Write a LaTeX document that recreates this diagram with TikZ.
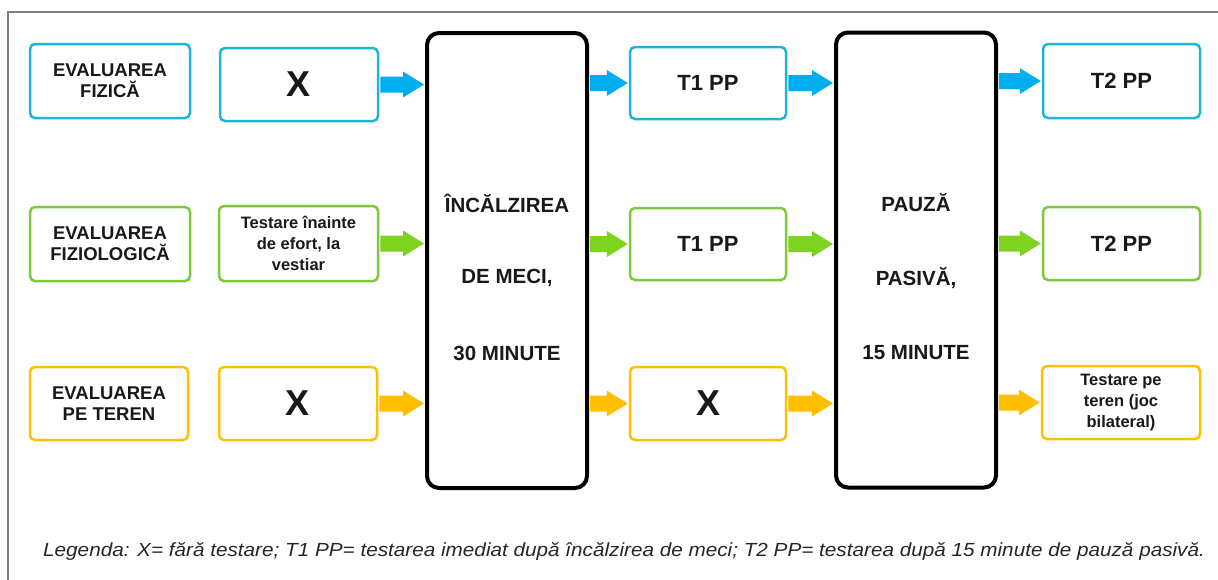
\documentclass[tikz,border=0pt]{standalone}
\usepackage{fontspec}
\setmainfont{Liberation Sans}
\usetikzlibrary{calc}
\definecolor{cyb}{HTML}{1EB4D8}
\definecolor{cya}{HTML}{00AEEF}
\definecolor{grb}{HTML}{7DC93B}
\definecolor{gra}{HTML}{7ED321}
\definecolor{yeb}{HTML}{FFC000}
\definecolor{yea}{HTML}{FFBF00}
\definecolor{frm}{HTML}{808080}
\newcommand{\blockarr}[4]{%
  \fill[#4] let \p1=(#1.east), \p2=(#2.west), \p3=(#3.center) in
    (\x1+1pt,\y3+8pt) -- (\x2-22pt,\y3+8pt) -- (\x2-22pt,\y3+13pt) --
    (\x2-1pt,\y3) -- (\x2-22pt,\y3-13pt) -- (\x2-22pt,\y3-8pt) --
    (\x1+1pt,\y3-8pt) -- cycle;}
\tikzset{
  sbox/.style={draw=#1, line width=2.5pt, rounded corners=5pt, fill=white,
    align=center, inner sep=0pt, text=black!90},
  bigbox/.style={draw=black, line width=4pt, rounded corners=12pt, fill=white,
    minimum width=160, minimum height=455, inner sep=0pt},
  lab/.style={font=\bfseries\fontsize{18.5}{21}\selectfont},
  small/.style={font=\bfseries\fontsize{16.5}{21}\selectfont},
  tpp/.style={font=\bfseries\fontsize{22}{26}\selectfont},
  bigx/.style={font=\bfseries\fontsize{36}{40}\selectfont},
  bigtxt/.style={font=\bfseries\fontsize{20.5}{24}\selectfont, text=black!90},
}
\begin{document}
\begin{tikzpicture}[x=1pt,y=-1pt]
\useasboundingbox (0,0) rectangle (1218,579);
\draw[frm, line width=1.5pt] (8,12) rectangle (1260,620);

% big boxes
\node[bigbox] (B1) at (507,260.5) {};
\node[bigbox] (B2) at (916,260) {};
\node[bigtxt] (b1a) at (507,203) {ÎNCĂLZIREA};
\node[bigtxt] (b1b) at (507,278) {DE MECI,};
\node[bigtxt] (b1c) at (507,353) {30 MINUTE};
\node[bigtxt] (b2a) at (916,203) {PAUZĂ};
\node[bigtxt] (b2b) at (916,278) {PASIVĂ,};
\node[bigtxt] (b2c) at (916,353) {15 MINUTE};

% row 1
\node[sbox=cyb, lab, minimum width=160, minimum height=74] (L1) at (110,81) {EVALUAREA\\FIZICĂ};
\node[sbox=cyb, bigx, minimum width=158, minimum height=73] (X1) at (299,84.5) {X};
\node[sbox=cyb, tpp, minimum width=156, minimum height=72] (T1a) at (708,83) {T1 PP};
\node[sbox=cyb, tpp, minimum width=157, minimum height=74] (T2a) at (1121.5,81) {T2 PP};

% row 2
\node[sbox=grb, lab, minimum width=160, minimum height=74] (L2) at (110,244) {EVALUAREA\\FIZIOLOGICĂ};
\node[sbox=grb, small, minimum width=159, minimum height=75] (V2) at (298.5,243.5) {Testare înainte\\de efort, la\\vestiar};
\node[sbox=grb, tpp, minimum width=156, minimum height=72] (T1b) at (708,244) {T1 PP};
\node[sbox=grb, tpp, minimum width=157, minimum height=73] (T2b) at (1121.5,243.5) {T2 PP};

% row 3
\node[sbox=yeb, lab, minimum width=158, minimum height=73] (L3) at (109,403.5) {EVALUAREA\\PE TEREN};
\node[sbox=yeb, bigx, minimum width=158, minimum height=73] (X3) at (298,403.5) {X};
\node[sbox=yeb, bigx, minimum width=156, minimum height=73] (X3b) at (708,403.5) {X};
\node[sbox=yeb, small, minimum width=158, minimum height=73] (T2c) at (1121,402.5) {Testare pe\\teren (joc\\bilateral)};

% arrows
\blockarr{X1}{B1}{X1}{cya}
\blockarr{B1}{T1a}{T1a}{cya}
\blockarr{T1a}{B2}{T1a}{cya}
\blockarr{B2}{T2a}{T2a}{cya}
\blockarr{V2}{B1}{V2}{gra}
\blockarr{B1}{T1b}{T1b}{gra}
\blockarr{T1b}{B2}{T1b}{gra}
\blockarr{B2}{T2b}{T2b}{gra}
\blockarr{X3}{B1}{X3}{yea}
\blockarr{B1}{X3b}{X3b}{yea}
\blockarr{X3b}{B2}{X3b}{yea}
\blockarr{B2}{T2c}{T2c}{yea}

% legend
\node[anchor=west, font=\itshape\fontsize{19}{22}\selectfont, text=black!85, inner sep=0pt] (leg) at (43,551)
  {\scalebox{1.09}[1]{Legenda: X= fără testare; T1 PP= testarea imediat după încălzirea de meci; T2 PP= testarea după 15 minute de pauză pasivă.}};
\end{tikzpicture}
\end{document}
